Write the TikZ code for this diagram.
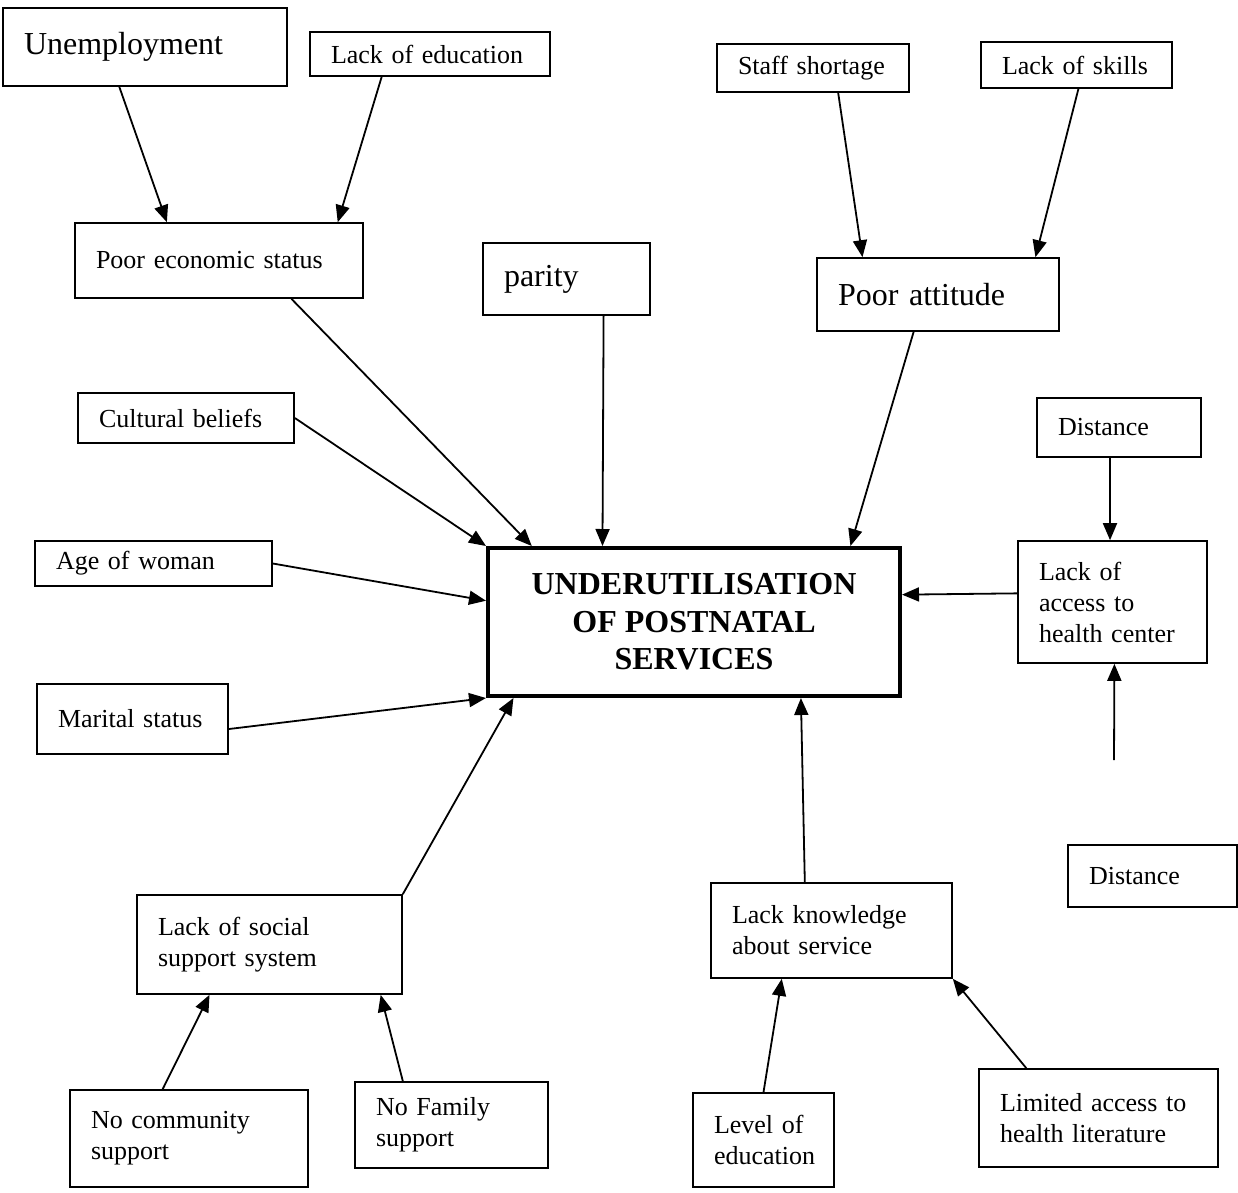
\documentclass[tikz,border=0pt]{standalone}
\usepackage{fontspec}
\setmainfont{Liberation Serif}
\usetikzlibrary{calc,arrows.meta}
\begin{document}
\begin{tikzpicture}[x=1pt,y=-1pt,
  box/.style={draw,line width=1.6pt,rectangle,inner xsep=21pt,inner ysep=0pt,align=left,
    font=\fontsize{26}{31}\selectfont},
  big/.style={font=\fontsize{32}{38}\selectfont},
  arr/.style={line width=1.8pt,-{Triangle[length=17pt,width=14pt]}}]
\useasboundingbox (0,0) rectangle (1238,1192);
% boxes
\node[box,big,text width=242pt,minimum height=78pt] (unemp) at (145,47) {Unemployment};
\node[box,text width=198pt,minimum height=44pt] (lackedu) at (430,54) {Lack of education};
\node[box,text width=150pt,minimum height=48pt] (staff) at (813,68) {Staff shortage};
\node[box,text width=149pt,minimum height=46pt] (skills) at (1076.5,65) {Lack of skills};
\node[box,text width=246pt,minimum height=75pt] (econ) at (219,260.5) {Poor economic status};
\node[box,big,text width=125pt,minimum height=72pt] (parity) at (566.5,279) {parity};
\node[box,big,text width=200pt,minimum height=73pt] (attitude) at (938,294.5) {Poor attitude};
\node[box,text width=174pt,minimum height=50pt] (cultural) at (186,418) {Cultural beliefs};
\node[box,text width=122pt,minimum height=59pt] (distA) at (1119,427.5) {Distance};
\node[box,text width=195pt,minimum height=45pt] (age) at (153.5,563.5) {Age of woman};
\node[draw,line width=4pt,minimum width=412pt,minimum height=148pt,align=center,
  font=\fontsize{32}{37.5}\selectfont\bfseries] (main) at (694,622)
  {UNDERUTILISATION\\OF POSTNATAL\\SERVICES};
\node[box,text width=147pt,minimum height=122pt] (access) at (1112.5,602) {Lack of\\access to\\health center};
\node[box,text width=149pt,minimum height=70pt] (marital) at (132.5,719) {Marital status};
\node[box,text width=127pt,minimum height=62pt] (distB) at (1152.5,876) {Distance};
\node[box,text width=199pt,minimum height=95pt] (knowl) at (831.5,930.5) {Lack knowledge\\about service};
\node[box,text width=223pt,minimum height=99pt] (social) at (269.5,944.5) {Lack of social\\support system};
\node[box,text width=196pt,minimum height=97pt] (community) at (189,1138.5) {No community\\support};
\node[box,text width=151pt,minimum height=86pt] (family) at (451.5,1125) {No Family\\support};
\node[box,text width=99pt,minimum height=94pt] (level) at (763.5,1140) {Level of\\education};
\node[box,text width=197pt,minimum height=98pt] (limited) at (1098.5,1118) {Limited access to\\health literature};
\coordinate (free) at (1114,760);
% connectors
\draw[arr] ($(unemp.south west)!.41!(unemp.south east)$) -- ($(econ.north west)!.32!(econ.north east)$);
\draw[arr] ($(lackedu.south west)!.30!(lackedu.south east)$) -- ($(econ.north west)!.91!(econ.north east)$);
\draw[arr] ($(staff.south west)!.63!(staff.south east)$) -- ($(attitude.north west)!.19!(attitude.north east)$);
\draw[arr] ($(skills.south west)!.51!(skills.south east)$) -- ($(attitude.north west)!.90!(attitude.north east)$);
\draw[arr] ($(econ.south west)!.75!(econ.south east)$) -- ($(main.north west)!.11!(main.north east)$);
\draw[arr] ($(parity.south west)!.72!(parity.south east)$) -- ($(main.north west)!.28!(main.north east)$);
\draw[arr] ($(attitude.south west)!.40!(attitude.south east)$) -- ($(main.north west)!.876!(main.north east)$);
\draw[arr] (cultural.east) -- (main.north west);
\draw[arr] (age.east) -- ($(main.north west)!.36!(main.south west)$);
\draw[arr] ($(marital.north east)!.64!(marital.south east)$) -- (main.south west);
\draw[arr] ($(access.north west)!.43!(access.south west)$) -- ($(main.north east)!.32!(main.south east)$);
\draw[arr] ($(distA.south west)!.445!(distA.south east)$) -- ($(access.north west)!.487!(access.north east)$);
\draw[arr] (free) -- ($(access.south west)!.51!(access.south east)$);
\draw[arr] (social.north east) -- ($(main.south west)!.066!(main.south east)$);
\draw[arr] ($(knowl.north west)!.39!(knowl.north east)$) -- ($(main.south west)!.757!(main.south east)$);
\draw[arr] ($(community.north west)!.39!(community.north east)$) -- ($(social.south west)!.275!(social.south east)$);
\draw[arr] ($(family.north west)!.25!(family.north east)$) -- ($(social.south west)!.917!(social.south east)$);
\draw[arr] ($(level.north west)!.5!(level.north east)$) -- ($(knowl.south west)!.295!(knowl.south east)$);
\draw[arr] ($(limited.north west)!.2!(limited.north east)$) -- (knowl.south east);
\end{tikzpicture}
\end{document}
